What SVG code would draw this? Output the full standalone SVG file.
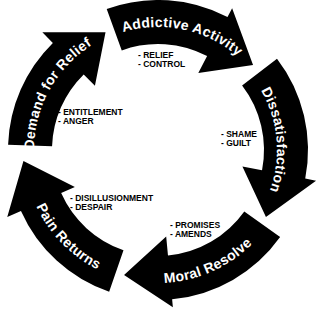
<svg xmlns="http://www.w3.org/2000/svg" width="320" height="314" viewBox="0 0 320 314">
<style>
.arrow{fill:#000;stroke:none}
.lbl{font-family:"Liberation Sans",Arial,Helvetica,sans-serif;font-weight:bold;font-size:14px;fill:#fff;letter-spacing:0.3px}
.note{font-family:"Liberation Sans",Arial,Helvetica,sans-serif;font-weight:bold;font-size:8.5px;fill:#000}
</style>
<defs>
<path id="tp-demand" d="M51.71,213.86 A124,124 0 0 1 155.84,26.02"/>
<path id="tp-addict" d="M66.59,67.70 A123,123 0 0 1 274.98,111.99"/>
<path id="tp-dissat" d="M208.29,42.15 A119,119 0 0 1 226.26,247.48"/>
<path id="tp-moral" d="M79.82,257.60 A133,133 0 0 0 290.27,163.90"/>
<path id="tp-pain" d="M29.19,113.06 A134,134 0 0 0 190.42,280.02"/>
</defs>
<rect width="320" height="314" fill="#fff"/>
<g id="demand-for-relief">
<path class="arrow" d="M8.09,144.77 A150,150 0 0 1 52.86,43.01 L42.35,32.31 L105.53,32.15 L94.92,85.81 L83.70,74.40 A106,106 0 0 0 52.06,146.30 Z"/>
<text class="lbl" text-anchor="middle"><textPath href="#tp-demand" startOffset="50%">Demand for Relief</textPath></text>
</g>
<g id="addictive-activity">
<path class="arrow" d="M106.70,9.05 A150,150 0 0 1 227.50,17.07 L232.13,8.21 L253.05,65.02 L198.31,72.90 L207.11,56.06 A106,106 0 0 0 121.75,50.39 Z"/>
<text class="lbl" text-anchor="middle"><textPath href="#tp-addict" startOffset="50%">Addictive Activity</textPath></text>
</g>
<g id="dissatisfaction">
<path class="arrow" d="M277.00,58.69 A150,150 0 0 1 305.24,178.62 L316.04,180.72 L265.94,216.92 L242.42,166.41 L262.05,170.23 A106,106 0 0 0 242.10,85.47 Z"/>
<text class="lbl" text-anchor="middle"><textPath href="#tp-dissat" startOffset="50%">Dissatisfaction</textPath></text>
</g>
<g id="moral-resolve">
<path class="arrow" d="M280.12,237.11 A150,150 0 0 1 172.12,299.33 L172.87,307.30 L124.05,274.97 L166.19,236.61 L167.98,255.53 A106,106 0 0 0 244.30,211.55 Z"/>
<text class="lbl" text-anchor="middle"><textPath href="#tp-moral" startOffset="50%">Moral Resolve</textPath></text>
</g>
<g id="pain-returns">
<path class="arrow" d="M109.16,291.83 A150,150 0 0 1 20.97,211.01 L7.26,217.11 L23.45,161.06 L74.87,187.01 L61.16,193.11 A106,106 0 0 0 123.49,250.23 Z"/>
<text class="lbl" text-anchor="middle"><textPath href="#tp-pain" startOffset="50%">Pain Returns</textPath></text>
</g>
<g id="notes-addictive">
<text class="note" x="138" y="58">- RELIEF</text>
<text class="note" x="138" y="67">- CONTROL</text>
</g>
<g id="notes-dissatisfaction">
<text class="note" x="221" y="137">- SHAME</text>
<text class="note" x="221" y="146">- GUILT</text>
</g>
<g id="notes-moral">
<text class="note" x="170" y="228">- PROMISES</text>
<text class="note" x="170" y="237">- AMENDS</text>
</g>
<g id="notes-pain">
<text class="note" x="70" y="201">- DISILLUSIONMENT</text>
<text class="note" x="70" y="210">- DESPAIR</text>
</g>
<g id="notes-demand">
<text class="note" x="58" y="115">- ENTITLEMENT</text>
<text class="note" x="58" y="124">- ANGER</text>
</g>
</svg>
